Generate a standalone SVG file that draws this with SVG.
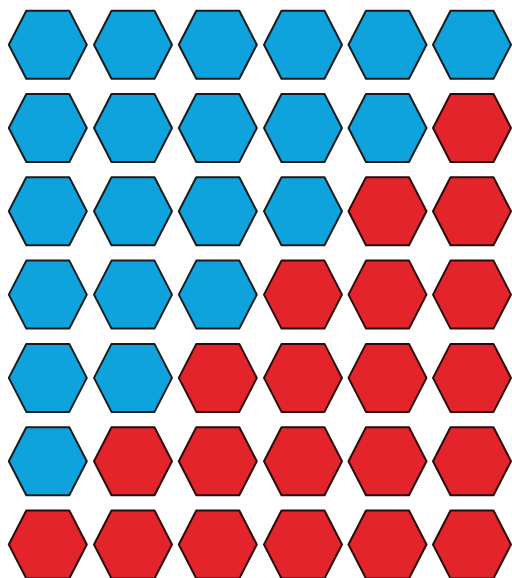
<svg xmlns="http://www.w3.org/2000/svg" xmlns:xlink="http://www.w3.org/1999/xlink" width="512" height="578" viewBox="0 0 512 578">
<style>
.b{fill:#0fa3de;stroke:#1b1b1b;stroke-width:2;stroke-linejoin:round}
.r{fill:#e3242b;stroke:#2a0a0a;stroke-width:2;stroke-linejoin:round}
</style>
<defs>
<polygon id="hx" points="-39,0 -21.5,-34 21.5,-34 39,0 21.5,34 -21.5,34"/>
</defs>
<rect width="512" height="578" fill="#fff"/>
<g id="row1">
<use id="h1_1" class="b" xlink:href="#hx" x="47.8" y="44.7"/>
<use id="h1_2" class="b" xlink:href="#hx" x="133" y="44.7"/>
<use id="h1_3" class="b" xlink:href="#hx" x="217.8" y="44.7"/>
<use id="h1_4" class="b" xlink:href="#hx" x="303" y="44.7"/>
<use id="h1_5" class="b" xlink:href="#hx" x="387.5" y="44.7"/>
<use id="h1_6" class="b" xlink:href="#hx" x="472" y="44.7"/>
</g>
<g id="row2">
<use id="h2_1" class="b" xlink:href="#hx" x="47.8" y="128"/>
<use id="h2_2" class="b" xlink:href="#hx" x="133" y="128"/>
<use id="h2_3" class="b" xlink:href="#hx" x="217.8" y="128"/>
<use id="h2_4" class="b" xlink:href="#hx" x="303" y="128"/>
<use id="h2_5" class="b" xlink:href="#hx" x="387.5" y="128"/>
<use id="h2_6" class="r" xlink:href="#hx" x="472" y="128"/>
</g>
<g id="row3">
<use id="h3_1" class="b" xlink:href="#hx" x="47.8" y="211.3"/>
<use id="h3_2" class="b" xlink:href="#hx" x="133" y="211.3"/>
<use id="h3_3" class="b" xlink:href="#hx" x="217.8" y="211.3"/>
<use id="h3_4" class="b" xlink:href="#hx" x="303" y="211.3"/>
<use id="h3_5" class="r" xlink:href="#hx" x="387.5" y="211.3"/>
<use id="h3_6" class="r" xlink:href="#hx" x="472" y="211.3"/>
</g>
<g id="row4">
<use id="h4_1" class="b" xlink:href="#hx" x="47.8" y="294.6"/>
<use id="h4_2" class="b" xlink:href="#hx" x="133" y="294.6"/>
<use id="h4_3" class="b" xlink:href="#hx" x="217.8" y="294.6"/>
<use id="h4_4" class="r" xlink:href="#hx" x="303" y="294.6"/>
<use id="h4_5" class="r" xlink:href="#hx" x="387.5" y="294.6"/>
<use id="h4_6" class="r" xlink:href="#hx" x="472" y="294.6"/>
</g>
<g id="row5">
<use id="h5_1" class="b" xlink:href="#hx" x="47.8" y="377.9"/>
<use id="h5_2" class="b" xlink:href="#hx" x="133" y="377.9"/>
<use id="h5_3" class="r" xlink:href="#hx" x="217.8" y="377.9"/>
<use id="h5_4" class="r" xlink:href="#hx" x="303" y="377.9"/>
<use id="h5_5" class="r" xlink:href="#hx" x="387.5" y="377.9"/>
<use id="h5_6" class="r" xlink:href="#hx" x="472" y="377.9"/>
</g>
<g id="row6">
<use id="h6_1" class="b" xlink:href="#hx" x="47.8" y="461.2"/>
<use id="h6_2" class="r" xlink:href="#hx" x="133" y="461.2"/>
<use id="h6_3" class="r" xlink:href="#hx" x="217.8" y="461.2"/>
<use id="h6_4" class="r" xlink:href="#hx" x="303" y="461.2"/>
<use id="h6_5" class="r" xlink:href="#hx" x="387.5" y="461.2"/>
<use id="h6_6" class="r" xlink:href="#hx" x="472" y="461.2"/>
</g>
<g id="row7">
<use id="h7_1" class="r" xlink:href="#hx" x="47.8" y="544.5"/>
<use id="h7_2" class="r" xlink:href="#hx" x="133" y="544.5"/>
<use id="h7_3" class="r" xlink:href="#hx" x="217.8" y="544.5"/>
<use id="h7_4" class="r" xlink:href="#hx" x="303" y="544.5"/>
<use id="h7_5" class="r" xlink:href="#hx" x="387.5" y="544.5"/>
<use id="h7_6" class="r" xlink:href="#hx" x="472" y="544.5"/>
</g>
<g id="connectors"/>
</svg>
